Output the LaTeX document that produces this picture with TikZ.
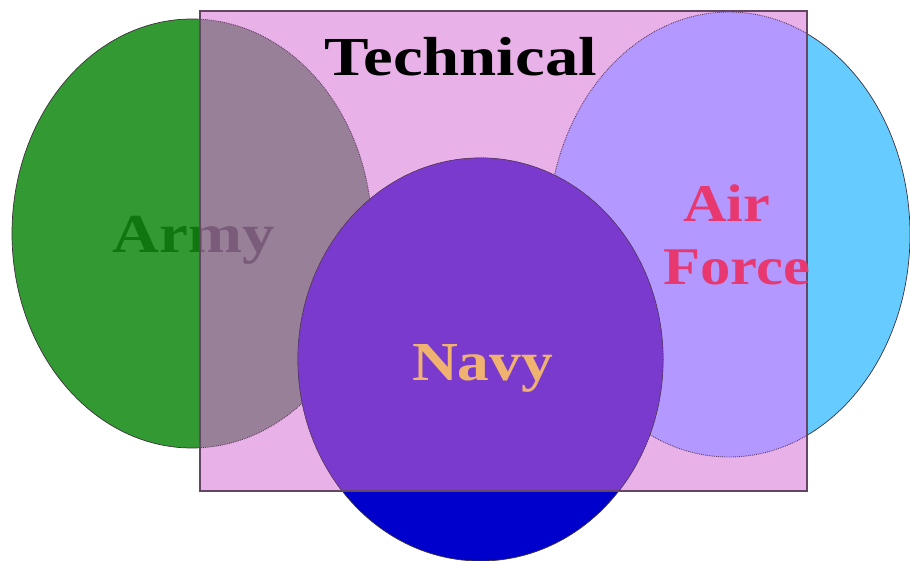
\documentclass[tikz,border=0pt]{standalone}
\usepackage{fontspec}
\setmainfont{Liberation Serif}
\definecolor{armygreen}{RGB}{51,153,51}
\definecolor{armytext}{RGB}{16,118,16}
\definecolor{armymix}{RGB}{153,128,153}
\definecolor{armytextmix}{RGB}{122,92,122}
\definecolor{techpink}{RGB}{232,178,232}
\definecolor{airblue}{RGB}{102,204,255}
\definecolor{airmix}{RGB}{178,152,255}
\definecolor{airtext}{RGB}{232,56,112}
\definecolor{navyblue}{RGB}{0,0,204}
\definecolor{navymix}{RGB}{122,58,206}
\definecolor{navytext}{RGB}{240,178,112}
\definecolor{edgedark}{RGB}{60,50,60}
\definecolor{edgemix}{RGB}{100,60,100}
\definecolor{rectedge}{RGB}{100,70,100}
\tikzset{
  bigtext/.style={inner sep=0pt, anchor=base, font=\fontsize{55}{63}\selectfont\bfseries},
  outerline/.style={draw=edgedark, line width=0.7pt},
  innerline/.style={draw=edgemix, line width=0.9pt, densely dotted},
}
\begin{document}
\begin{tikzpicture}[x=1pt,y=-1pt]
\useasboundingbox (0,0) rectangle (910,561);
\fill[white] (0,0) rectangle (910,561);
\coordinate (armyC) at (192,233.5);
\coordinate (airC) at (729,234.5);
\coordinate (navyC) at (480.5,359.5);
\coordinate (rectNW) at (200,11);
\coordinate (rectSE) at (807,491);
% Army and Air Force ellipses
\fill[armygreen, outerline] (armyC) ellipse [x radius=180pt, y radius=214.5pt];
\fill[airblue, outerline] (airC) ellipse [x radius=181pt, y radius=222.5pt];
\node[bigtext, text=armytext] (army) at (194,253) {\resizebox{162pt}{\height}{Army}};
% Technical rectangle
\fill[techpink] (rectNW) rectangle (rectSE);
\begin{scope}
  \clip (rectNW) rectangle (rectSE);
  \fill[armymix, innerline] (armyC) ellipse [x radius=180pt, y radius=214.5pt];
  \node[bigtext, text=armytextmix] (armyin) at (194,253) {\resizebox{162pt}{\height}{Army}};
  \fill[airmix, innerline] (airC) ellipse [x radius=181pt, y radius=222.5pt];
\end{scope}
% Navy ellipse
\fill[navyblue, outerline] (navyC) ellipse [x radius=182.5pt, y radius=201.5pt];
\begin{scope}
  \clip (rectNW) rectangle (rectSE);
  \fill[navymix, innerline] (navyC) ellipse [x radius=182.5pt, y radius=201.5pt];
\end{scope}
\draw[rectedge, line width=1.1pt] (rectNW) rectangle (rectSE);
% Labels
\node[bigtext, text=black] (tech) at (461,76) {\resizebox{272pt}{\height}{Technical}};
\node[bigtext, text=airtext, font=\fontsize{53}{63}\selectfont\bfseries] (air) at (726.5,222) {\resizebox{87pt}{\height}{Air}};
\node[bigtext, text=airtext, font=\fontsize{53}{63}\selectfont\bfseries] (force) at (736.5,285) {\resizebox{147pt}{\height}{Force}};
\node[bigtext, text=navytext] (navy) at (482.5,380) {\resizebox{141pt}{\height}{Navy}};
\end{tikzpicture}
\end{document}
